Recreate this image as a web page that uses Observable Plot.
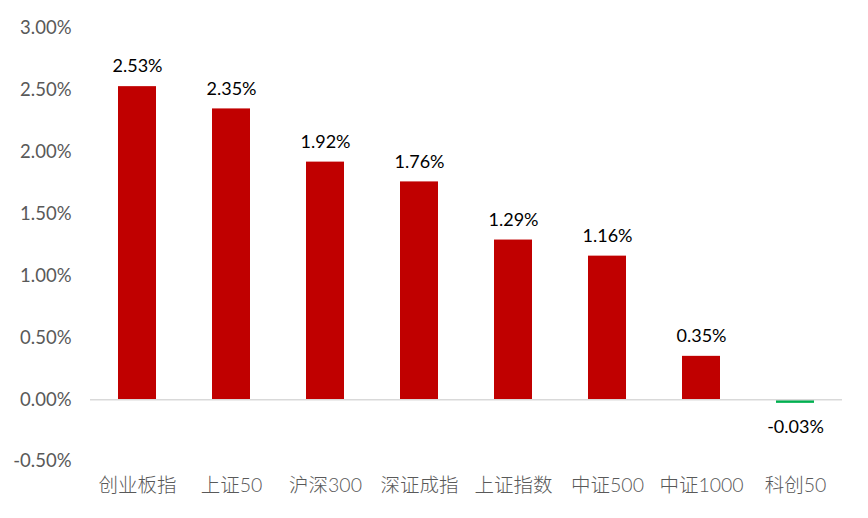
<!DOCTYPE html>
<html><head><meta charset="utf-8">
<script src="https://cdn.jsdelivr.net/npm/d3@7"></script>
<script src="https://cdn.jsdelivr.net/npm/@observablehq/plot@0.6"></script>
<style>body{margin:0;background:#fff;} svg{font-family:Lato,"Noto Sans CJK SC",sans-serif;}</style>
</head><body><div id="chart"></div>
<script>
const categories = ["创业板指","上证50","沪深300","深证成指","上证指数","中证500","中证1000","科创50"];
const values = [2.53, 2.35, 1.92, 1.76, 1.29, 1.16, 0.35, -0.03];
const yTicks = [-0.5, 0, 0.5, 1, 1.5, 2, 2.5, 3];
const data = categories.map((c, i) => ({cat: c, v: values[i]}));
const fmt = d => d.toFixed(2) + "%";
const chart = Plot.plot({
  width: 868, height: 518,
  marginLeft: 90, marginRight: 26, marginTop: 28, marginBottom: 57,
  style: {fontSize: "18px", fontFamily: 'Lato,"Noto Sans CJK SC",sans-serif', background: "#fff"},
  x: {domain: categories, paddingInner: 0.596, paddingOuter: 0.298, align: 0.5, label: null},
  y: {domain: [-0.5, 3], label: null},
  marks: [
    Plot.axisY({ticks: yTicks, tickFormat: fmt, tickSize: 0, tickPadding: 19, fill: "#595959", fontSize: 18.5, label: null}),
    Plot.axisX({tickSize: 0, tickPadding: 17, fill: "#595959", fontSize: 19.5, fontWeight: 300, label: null}),
    Plot.barY(data, {x: "cat", y: "v", fill: d => d.v < 0 ? "#00B050" : "#C00000"}),
    Plot.ruleY([0], {stroke: "#d9d9d9", strokeWidth: 1.5}),
    Plot.text(data.filter(d => d.v >= 0), {x: "cat", y: "v", text: d => fmt(d.v), dy: -20, fill: "#000", fontSize: 18}),
    Plot.text(data.filter(d => d.v < 0), {x: "cat", y: "v", text: d => fmt(d.v), dy: 24, fill: "#000", fontSize: 18})
  ]
});
document.getElementById("chart").appendChild(chart);
</script></body></html>
